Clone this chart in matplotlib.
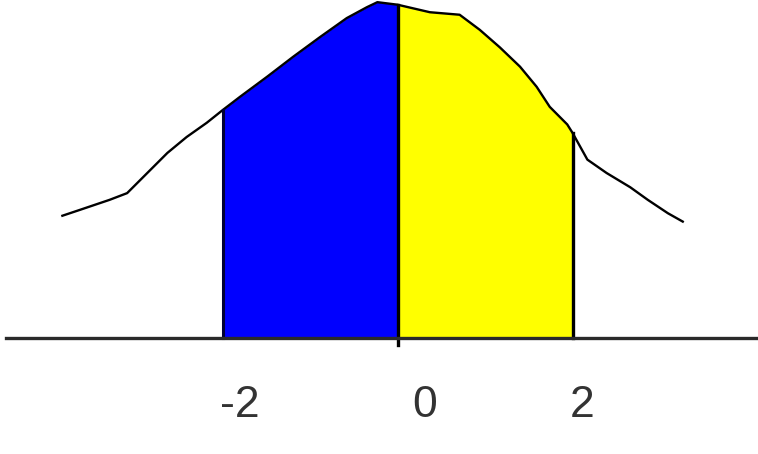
import matplotlib
matplotlib.use("Agg")
import matplotlib.pyplot as plt

# bell curve (x in sd units, y as density)
curve_x = [-3.83, -3.63, -3.29, -3.09, -2.86, -2.63, -2.41, -2.18, -2.0,
           -1.80, -1.49, -1.19, -0.89, -0.58, -0.35, -0.23, 0.0,
           0.37, 0.71, 0.94, 1.17, 1.40, 1.59, 1.74, 1.94, 2.0,
           2.17, 2.39, 2.66, 2.86, 3.09, 3.26]
curve_y = [0.146, 0.153, 0.165, 0.173, 0.197, 0.221, 0.240, 0.257, 0.272,
           0.288, 0.312, 0.336, 0.359, 0.382, 0.395, 0.401, 0.398,
           0.389, 0.386, 0.368, 0.347, 0.324, 0.300, 0.276, 0.255, 0.245,
           0.213, 0.197, 0.180, 0.165, 0.149, 0.139]

left_bound, mid, right_bound = -2.0, 0.0, 2.0
tick_vals = [-2, 0, 2]
tick_labels = ["-2", "0", "2"]

fig = plt.figure(figsize=(7.58, 4.54), dpi=100)
ax = fig.add_axes([0, 0, 1, 1])
ax.set_xlim(-4.543, 4.12)
ax.set_ylim(-0.1385, 0.4036)
ax.axis("off")

# shaded areas
blue_x = [x for x in curve_x if left_bound <= x <= mid]
blue_y = [y for x, y in zip(curve_x, curve_y) if left_bound <= x <= mid]
yel_x = [x for x in curve_x if mid <= x <= right_bound]
yel_y = [y for x, y in zip(curve_x, curve_y) if mid <= x <= right_bound]
ax.fill_between(blue_x, 0, blue_y, color="#0000ff", lw=0)
ax.fill_between(yel_x, 0, yel_y, color="#ffff00", lw=0)

# curve and edges
ax.plot(curve_x, curve_y, color="black", lw=1.7, solid_joinstyle="round")
ax.plot([left_bound, left_bound], [0, blue_y[0]], color="#000033", lw=2.2)
ax.plot([mid, mid], [-0.008, yel_y[0]], color="black", lw=2.4)
ax.plot([right_bound, right_bound], [0, yel_y[-1]], color="black", lw=2.4)

# baseline
ax.plot([-4.48, 4.12], [0, 0], color="#2a2a2a", lw=2.4)

# labels sit a little right of their values in the original
label_shift = [0.2, 0.31, 0.11]
for v, lab, s in zip(tick_vals, tick_labels, label_shift):
    ax.text(v + s, -0.08, lab, ha="center", va="center", fontsize=32,
            family="Liberation Sans", color="#333333")

fig.savefig("out.png", dpi=100)
